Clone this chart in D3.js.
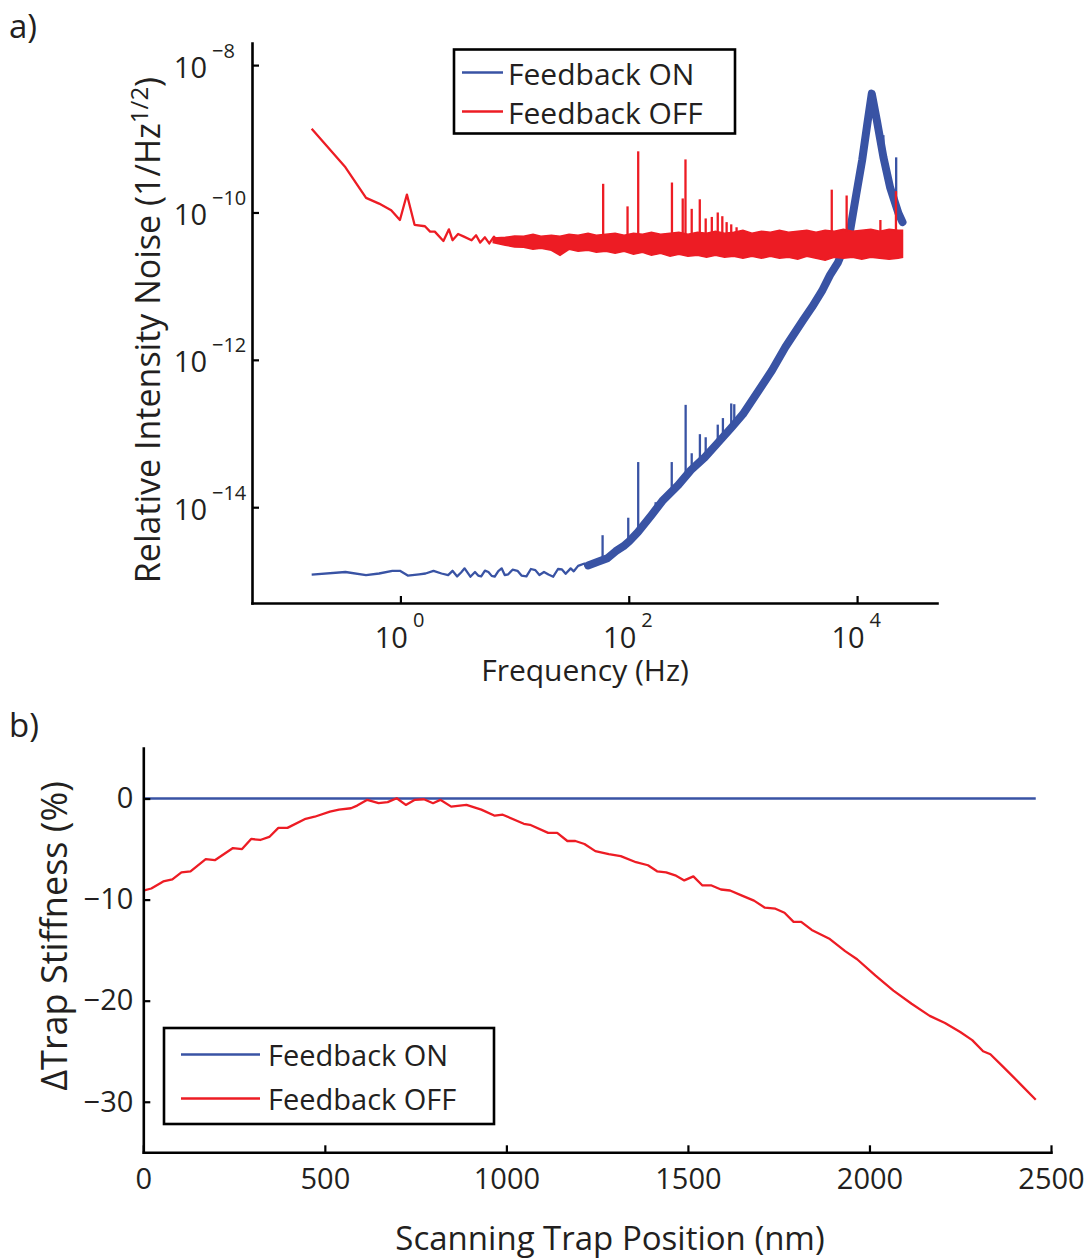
<!DOCTYPE html>
<html lang="en">
<head>
<meta charset="UTF-8">
<title>Feedback noise and trap stiffness</title>
<script src="https://cdn.jsdelivr.net/npm/d3@7"></script>
<style>
  body { margin: 0; background: #fff; }
  svg text { font-family: "Open Sans", sans-serif; fill: #231f20; }
</style>
</head>
<body>
<svg id="fig" width="1086" height="1260"></svg>
<script>
// ---- panel a: noise spectra (frequency Hz, value 1/Hz^1/2) ----
var onLow = [[0.167,1.22e-15],[0.33,1.32e-15],[0.5,1.20e-15],[0.65,1.26e-15],[0.85,1.37e-15],[0.99,1.37e-15],
  [1.16,1.18e-15],[1.46,1.23e-15],[1.66,1.26e-15],[1.95,1.37e-15],[2.29,1.26e-15],[2.62,1.20e-15],[2.86,1.37e-15],
  [3.14,1.15e-15],[3.4,1.30e-15],[3.65,1.48e-15],[4.1,1.14e-15],[4.5,1.32e-15],[4.8,1.18e-15],[5.1,1.15e-15],
  [5.5,1.38e-15],[5.9,1.32e-15],[6.3,1.17e-15],[6.7,1.14e-15],[7.2,1.36e-15],[7.7,1.48e-15],[8.2,1.20e-15],
  [8.8,1.23e-15],[9.6,1.42e-15],[10.6,1.37e-15],[11.5,1.18e-15],[12.7,1.15e-15],[13.9,1.45e-15],[15.2,1.40e-15],
  [16.5,1.20e-15],[18.1,1.32e-15],[19.8,1.22e-15],[21.8,1.14e-15],[24,1.45e-15],[26,1.43e-15],[28,1.25e-15],
  [31,1.48e-15],[33,1.35e-15],[36,1.60e-15],[41,1.72e-15],[44,1.55e-15],[48,1.85e-15]];
var onBand = [[44,1.62e-15],[53,1.80e-15],[65,2.03e-15],[77,2.53e-15],[90,2.96e-15],[101,3.46e-15],[120,4.58e-15],
  [158,7.8e-15],[200,1.25e-14],[271,1.99e-14],[350,3.18e-14],[464,4.77e-14],[600,7.4e-14],[800,1.22e-13],
  [1000,1.83e-13],[1380,3.87e-13],[1800,7.23e-13],[2350,1.48e-12],[3360,3.44e-12],[4030,5.2e-12],[4930,8.6e-12],
  [5790,1.41e-11],[6810,2.11e-11],[7850,3.59e-11],[8690,5.7e-11],[9800,1.71e-10],[11070,5.1e-10],[12240,1.52e-9],
  [13450,4.1e-9],[14890,1.78e-9],[17020,5.6e-10],[19450,2.2e-10],[23010,9.8e-11],[25000,7.4e-11]];
var onSpikes = [[59,1.9e-15,4.17e-15],[99,3.4e-15,7.2e-15],[121,4.6e-15,4.1e-14],[172,9e-15,1.17e-14],
  [238,1.7e-14,4.1e-14],[315,2.5e-14,2.45e-13],[356,3.2e-14,5.4e-14],[420,4.2e-14,9.8e-14],[472,4.8e-14,8.9e-14],
  [602,7.4e-14,1.32e-13],[668,8.5e-14,1.62e-13],[790,1.2e-13,2.56e-13],[840,1.3e-13,2.5e-13],
  [17000,5.6e-10,1.12e-9],[22000,1.1e-10,5.6e-10]];

var offLow = [[0.167,1.37e-9],[0.33,4.1e-10],[0.5,1.58e-10],[0.65,1.32e-10],[0.83,1.07e-10],[0.99,7.9e-11],
  [1.14,1.75e-10],[1.33,6.8e-11],[1.64,6.5e-11],[1.82,5.5e-11],[2.0,5.5e-11],[2.38,4.1e-11],[2.66,5.9e-11],
  [2.86,4.2e-11],[3.2,5.1e-11],[3.6,4.7e-11],[4.2,4.2e-11],[4.6,4.9e-11],[5.0,3.9e-11],[5.5,4.6e-11],
  [6.0,3.8e-11],[6.6,4.7e-11],[7.2,4.0e-11]];
// [frequency, lower edge, upper edge] of the dense noise band
var offBand = [[6.5,3.9e-11,4.5e-11],[8.3,3.6e-11,4.6e-11],[10,3.4e-11,4.8e-11],[12,3.37e-11,4.75e-11],
  [14.5,3.16e-11,5.06e-11],[17,3.27e-11,4.75e-11],[21,3.07e-11,4.90e-11],[25,2.62e-11,4.75e-11],[30,3.16e-11,5.06e-11],
  [36,2.97e-11,4.90e-11],[44,3.07e-11,5.22e-11],[52,2.88e-11,4.90e-11],[63,2.97e-11,5.06e-11],
  [76,2.79e-11,5.22e-11],[91,2.97e-11,4.90e-11],[110,2.71e-11,5.22e-11],[132,2.88e-11,5.06e-11],
  [158,2.62e-11,5.38e-11],[190,2.79e-11,5.06e-11],[230,2.54e-11,5.22e-11],[275,2.71e-11,5.38e-11],
  [330,2.54e-11,5.06e-11],[400,2.62e-11,5.38e-11],[480,2.46e-11,5.22e-11],[575,2.62e-11,5.56e-11],
  [690,2.46e-11,5.22e-11],[830,2.54e-11,5.38e-11],[1000,2.39e-11,5.73e-11],[1200,2.54e-11,5.22e-11],
  [1450,2.39e-11,5.56e-11],[1740,2.54e-11,5.38e-11],[2090,2.39e-11,5.73e-11],[2510,2.46e-11,5.38e-11],
  [3020,2.32e-11,5.56e-11],[3630,2.54e-11,5.73e-11],[4370,2.39e-11,5.38e-11],[5250,2.25e-11,5.73e-11],
  [6310,2.46e-11,5.56e-11],[7590,2.39e-11,5.92e-11],[9120,2.46e-11,5.56e-11],[11000,2.32e-11,5.73e-11],
  [13200,2.46e-11,5.92e-11],[15800,2.39e-11,5.56e-11],[19100,2.32e-11,5.92e-11],[22900,2.39e-11,5.73e-11],
  [25000,2.46e-11,5.73e-11]];
var offSpikes = [[59.7,5e-11,2.45e-10],[97.6,5e-11,1.21e-10],[121,5e-11,6.76e-10],[239,5e-11,2.55e-10],
  [297,5e-11,1.55e-10],[314,5e-11,5.25e-10],[356,5e-11,1.12e-10],[419,5e-11,1.51e-10],[472,5e-11,8.3e-11],
  [534,5e-11,8.7e-11],[602,5e-11,1.0e-10],[660,5e-11,8.9e-11],[720,5e-11,7.4e-11],[790,5e-11,6.9e-11],
  [880,5e-11,6.3e-11],[6000,5.5e-11,2.04e-10],[8100,5.5e-11,1.7e-10],[16000,5.5e-11,7.9e-11],[21900,5.5e-11,1.95e-10]];

var freqTicks = [1, 100, 10000];
var noiseTicks = [1e-14, 1e-12, 1e-10, 1e-8];

// ---- panel b: stiffness change (position nm, percent) ----
var stiffOn = [[0,0],[500,0],[1000,0],[1500,0],[2000,0],[2458,0]];
var stiffOff = [[0,-9.1],[22,-8.9],[55,-8.2],[80,-8.0],[105,-7.3],[130,-7.2],[172,-6.0],[197,-6.1],[247,-4.9],
  [272,-5.0],[297,-4.0],[322,-4.1],[347,-3.8],[372,-2.9],[397,-2.9],[447,-2.0],[472,-1.8],[514,-1.3],[539,-1.1],
  [572,-0.96],[589,-0.7],[617,-0.13],[648,-0.46],[673,-0.36],[698,0.03],[723,-0.63],[748,-0.13],[773,-0.07],
  [798,-0.46],[818,-0.13],[848,-0.8],[890,-0.63],[931,-1.1],[968,-1.7],[990,-1.6],[1048,-2.5],[1065,-2.6],
  [1115,-3.4],[1140,-3.4],[1168,-4.2],[1190,-4.2],[1215,-4.5],[1245,-5.2],[1282,-5.5],[1315,-5.7],[1357,-6.3],
  [1390,-6.6],[1415,-7.2],[1440,-7.3],[1465,-7.6],[1490,-8.1],[1515,-7.7],[1540,-8.6],[1565,-8.6],[1591,-9.0],
  [1616,-9.1],[1649,-9.6],[1682,-10.1],[1712,-10.8],[1741,-10.9],[1766,-11.3],[1791,-12.2],[1812,-12.2],
  [1841,-13.0],[1891,-13.9],[1933,-15.1],[1966,-15.9],[2016,-17.5],[2066,-19.0],[2116,-20.3],[2166,-21.5],
  [2208,-22.2],[2250,-23.1],[2283,-23.9],[2313,-25.0],[2333,-25.3],[2367,-26.5],[2417,-28.3],[2458,-29.8]];
var posTicks = [0, 500, 1000, 1500, 2000, 2500];
var stiffTicks = [-30, -20, -10, 0];

var legendLabels = ["Feedback ON", "Feedback OFF"];
var blue = "#3953a4", red = "#ed1c24";

var svg = d3.select("#fig");

function styleAxis(g) {
  g.attr("font-family", null).attr("font-size", null);
  g.select(".domain").attr("stroke", "#000").attr("stroke-width", 2.6).attr("stroke-linecap", "square");
  g.selectAll(".tick line").attr("stroke", "#000").attr("stroke-width", 2.2);
}

// ================= panel a =================
var x1 = d3.scaleLog().domain([Math.pow(10, -1.3), Math.pow(10, 4.7)]).range([252, 937]);
var y1 = d3.scaleLog().domain([Math.pow(10, -15.3), Math.pow(10, -7.7)]).range([603, 43]);

var pa = svg.append("g");
var line1 = d3.line().x(function(d) { return x1(d[0]); }).y(function(d) { return y1(d[1]); });

// blue first, red drawn on top
pa.append("path").datum(onLow).attr("d", line1).attr("fill", "none")
  .attr("stroke", blue).attr("stroke-width", 2.3).attr("stroke-linejoin", "round");
pa.append("path").datum(onBand).attr("d", line1).attr("fill", "none")
  .attr("stroke", blue).attr("stroke-width", 8).attr("stroke-linejoin", "round").attr("stroke-linecap", "round");
pa.selectAll(".onSpike").data(onSpikes).enter().append("line")
  .attr("x1", function(d) { return x1(d[0]); }).attr("x2", function(d) { return x1(d[0]); })
  .attr("y1", function(d) { return y1(d[1]); }).attr("y2", function(d) { return y1(d[2]); })
  .attr("stroke", blue).attr("stroke-width", 2.3);

pa.append("path").datum(offLow).attr("d", line1).attr("fill", "none")
  .attr("stroke", red).attr("stroke-width", 2.3).attr("stroke-linejoin", "round");
var band1 = d3.area().x(function(d) { return x1(d[0]); })
  .y0(function(d) { return y1(d[1]); }).y1(function(d) { return y1(d[2]); });
pa.append("path").datum(offBand).attr("d", band1).attr("fill", red)
  .attr("stroke", red).attr("stroke-width", 1.5).attr("stroke-linejoin", "miter");
pa.selectAll(".offSpike").data(offSpikes).enter().append("line")
  .attr("x1", function(d) { return x1(d[0]); }).attr("x2", function(d) { return x1(d[0]); })
  .attr("y1", function(d) { return y1(d[1]); }).attr("y2", function(d) { return y1(d[2]); })
  .attr("stroke", red).attr("stroke-width", 2.3);

var gx1 = pa.append("g").attr("transform", "translate(0,603)")
  .call(d3.axisBottom(x1).tickValues(freqTicks).tickSize(-7).tickSizeOuter(0).tickFormat(""));
styleAxis(gx1);
gx1.selectAll(".tick").each(function(d) {
  var t = d3.select(this);
  var p = Math.round(Math.log10(d));
  t.append("text").attr("x", 7).attr("y", 45).attr("text-anchor", "end").attr("font-size", 29).text("10");
  t.append("text").attr("x", 12).attr("y", 24).attr("text-anchor", "start").attr("font-size", 20).text(p);
});

var gy1 = pa.append("g").attr("transform", "translate(252,0)")
  .call(d3.axisLeft(y1).tickValues(noiseTicks).tickSize(-7).tickSizeOuter(0).tickFormat(""));
styleAxis(gy1);
gy1.selectAll(".tick").each(function(d) {
  var t = d3.select(this);
  var p = Math.round(Math.log10(d));
  t.append("text").attr("x", -45).attr("y", 12).attr("text-anchor", "end").attr("font-size", 29).text("10");
  t.append("text").attr("x", -40).attr("y", -8).attr("text-anchor", "start").attr("font-size", 20)
    .text("\u2212" + Math.abs(p));
});

pa.append("text").attr("x", 585).attr("y", 681).attr("text-anchor", "middle")
  .attr("font-size", 30).text("Frequency (Hz)");
var yl1 = pa.append("text").attr("transform", "translate(160,330) rotate(-90)")
  .attr("text-anchor", "middle").attr("font-size", 34);
yl1.append("tspan").text("Relative Intensity Noise (1/Hz");
yl1.append("tspan").attr("font-size", 24).attr("dy", -12).text("1/2");
yl1.append("tspan").attr("dy", 12).text(")");

// legend a
var la = pa.append("g");
la.append("rect").attr("x", 454).attr("y", 49.5).attr("width", 281).attr("height", 84)
  .attr("fill", "#fff").attr("stroke", "#000").attr("stroke-width", 2.6);
legendLabels.forEach(function(name, i) {
  var yy = 72.5 + i * 39;
  la.append("line").attr("x1", 462).attr("x2", 503).attr("y1", yy).attr("y2", yy)
    .attr("stroke", i === 0 ? blue : red).attr("stroke-width", 2.3);
  la.append("text").attr("x", 508).attr("y", yy + 12).attr("font-size", 30).text(name);
});

svg.append("text").attr("x", 9).attr("y", 38).attr("font-size", 33).text("a)");
svg.append("text").attr("x", 9).attr("y", 737).attr("font-size", 33).text("b)");

// ================= panel b =================
var x2 = d3.scaleLinear().domain([0, 2500]).range([143.3, 1051]);
var y2 = d3.scaleLinear().domain([-35, 5]).range([1152.3, 748]);
var pb = svg.append("g");
var line2 = d3.line().x(function(d) { return x2(d[0]); }).y(function(d) { return y2(d[1]); });

pb.append("path").datum(stiffOn).attr("d", line2).attr("fill", "none")
  .attr("stroke", blue).attr("stroke-width", 2.6);
pb.append("path").datum(stiffOff).attr("d", line2).attr("fill", "none")
  .attr("stroke", red).attr("stroke-width", 2.3).attr("stroke-linejoin", "round");

var gx2 = pb.append("g").attr("transform", "translate(0,1152.3)")
  .call(d3.axisBottom(x2).tickValues(posTicks).tickSize(-7).tickSizeOuter(0).tickPadding(16)
    .tickFormat(d3.format("d")));
styleAxis(gx2);
gx2.selectAll(".tick text").attr("font-size", 29).attr("fill", "#231f20");

var gy2 = pb.append("g").attr("transform", "translate(143.3,0)")
  .call(d3.axisLeft(y2).tickValues(stiffTicks).tickSize(-7).tickSizeOuter(0).tickPadding(10));
styleAxis(gy2);
gy2.selectAll(".tick text").attr("font-size", 29).attr("fill", "#231f20");

pb.append("text").attr("x", 610).attr("y", 1250).attr("text-anchor", "middle")
  .attr("font-size", 33).text("Scanning Trap Position (nm)");
pb.append("text").attr("transform", "translate(67,936) rotate(-90)")
  .attr("text-anchor", "middle").attr("font-size", 36).text("\u0394Trap Stiffness (%)");

// legend b
var lb = pb.append("g");
lb.append("rect").attr("x", 164).attr("y", 1028).attr("width", 330).attr("height", 96)
  .attr("fill", "#fff").attr("stroke", "#000").attr("stroke-width", 2.6);
legendLabels.forEach(function(name, i) {
  var yy = 1054.5 + i * 44;
  lb.append("line").attr("x1", 181).attr("x2", 260).attr("y1", yy).attr("y2", yy)
    .attr("stroke", i === 0 ? blue : red).attr("stroke-width", 2.6);
  lb.append("text").attr("x", 268).attr("y", yy + 11).attr("font-size", 29).text(name);
});
</script>
</body>
</html>
